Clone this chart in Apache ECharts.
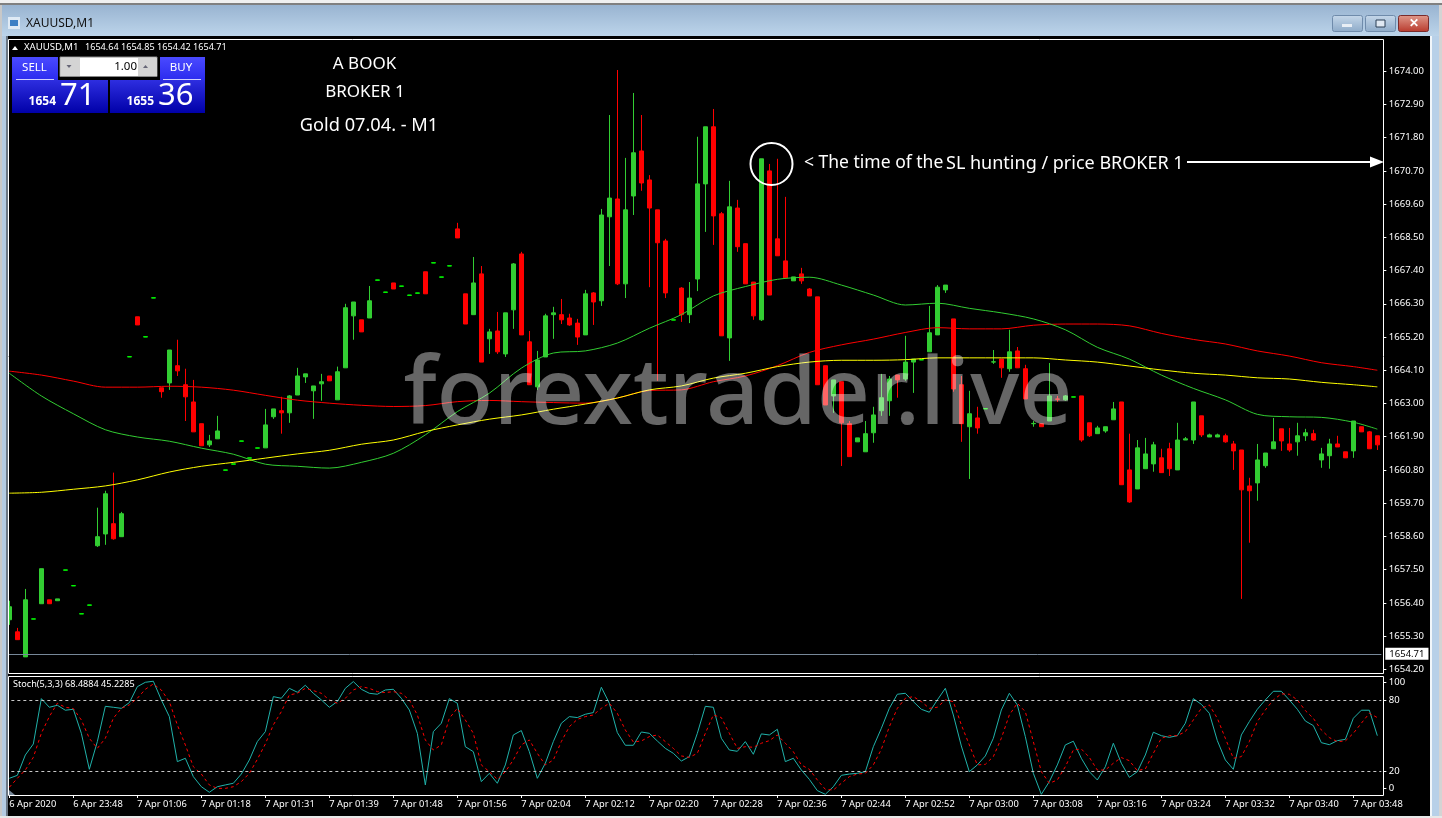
<!DOCTYPE html>
<html><head><meta charset="utf-8">
<style>html,body{margin:0;padding:0;background:#fff}#c{width:1442px;height:818px}</style>
<script src="https://cdn.jsdelivr.net/npm/echarts@6/dist/echarts.min.js"></script>
</head><body><div id="c"></div>
<script>
const tickLabels = ["6 Apr 2020","6 Apr 23:48","7 Apr 01:06","7 Apr 01:18","7 Apr 01:31","7 Apr 01:39","7 Apr 01:48","7 Apr 01:56","7 Apr 02:04","7 Apr 02:12","7 Apr 02:20","7 Apr 02:28","7 Apr 02:36","7 Apr 02:44","7 Apr 02:52","7 Apr 03:00","7 Apr 03:08","7 Apr 03:16","7 Apr 03:24","7 Apr 03:32","7 Apr 03:40","7 Apr 03:48"];
const priceTicks = [1654.2,1655.3,1656.4,1657.5,1658.6,1659.7,1660.8,1661.9,1663.0,1664.1,1665.2,1666.3,1667.4,1668.5,1669.6,1670.7,1671.8,1672.9,1674.0];
const lastPrice = 1654.71;
const stochLevels = [20,80];
const opens = [
1655.84,1655.44,1654.61,1655.86,1656.37,1656.50,1656.47,1657.48,1656.96,1656.03,
1656.32,1658.29,1658.68,1659.02,1658.59,1664.54,1665.87,1665.20,1666.49,1663.52,
1663.68,1664.25,1663.62,1663.05,1662.33,1661.63,1661.83,1660.79,1660.99,1661.75,
1661.19,1661.52,1661.53,1662.56,1662.76,1662.69,1663.28,1663.88,1663.42,1663.65,
1663.91,1663.12,1664.18,1665.90,1665.77,1665.83,1667.08,1666.68,1666.99,1666.88,
1666.58,1666.65,1667.36,1667.65,1667.18,1667.55,1668.78,1666.63,1665.94,1667.29,
1665.14,1665.40,1664.64,1666.10,1667.95,1665.04,1663.55,1664.54,1665.94,1665.94,
1665.83,1665.66,1665.27,1666.66,1666.40,1669.18,1669.77,1666.96,1669.87,1671.36,
1670.40,1669.41,1668.38,1665.76,1666.82,1665.94,1667.12,1670.27,1672.16,1669.28,
1665.17,1669.47,1668.29,1667.02,1665.77,1670.70,1668.45,1667.72,1667.06,1667.29,
1666.79,1666.53,1664.25,1663.25,1663.72,1662.33,1661.73,1661.40,1662.03,1662.76,
1663.09,1663.94,1663.81,1664.37,1664.44,1664.71,1665.27,1666.76,1665.80,1663.62,
1662.23,1662.52,1662.82,1664.37,1664.47,1664.15,1664.74,1664.15,1662.33,1662.33,
1662.42,1663.15,1663.12,1663.21,1663.25,1662.36,1662.00,1662.09,1662.46,1663.05,
1660.80,1660.17,1660.84,1661.00,1661.20,1661.50,1660.80,1661.79,1661.79,1662.59,
1661.89,1661.89,1661.93,1661.66,1661.46,1660.27,1660.37,1660.94,1661.50,1662.16,
1661.66,1661.73,1661.93,1662.00,1661.13,1661.27,1661.66,1661.40,1661.43,1662.23,
1662.06,1661.93];
const closes = [
1656.27,1655.18,1656.50,1655.87,1657.53,1656.37,1656.53,1657.49,1656.97,1656.04,
1656.33,1658.59,1660.01,1658.52,1659.35,1664.55,1665.60,1665.21,1666.50,1663.39,
1664.77,1664.08,1663.22,1662.06,1661.60,1661.76,1662.09,1660.80,1661.00,1661.76,
1661.20,1661.53,1662.29,1662.82,1662.69,1663.25,1663.91,1663.98,1663.58,1663.72,
1663.75,1664.05,1666.17,1666.36,1665.37,1666.40,1667.09,1666.69,1666.79,1666.89,
1666.59,1666.66,1666.63,1667.66,1667.19,1667.56,1668.48,1665.63,1666.99,1664.37,
1665.37,1664.71,1666.00,1667.62,1665.27,1663.62,1664.44,1665.90,1666.00,1665.77,
1665.60,1665.20,1666.63,1666.36,1669.24,1669.80,1666.96,1669.41,1671.30,1670.30,
1669.47,1668.32,1666.66,1665.77,1665.94,1666.49,1670.27,1672.16,1669.21,1665.24,
1669.51,1668.19,1666.96,1665.90,1671.10,1666.59,1667.89,1667.16,1667.19,1667.06,
1666.56,1663.62,1662.95,1663.78,1662.36,1661.24,1661.86,1662.00,1662.62,1663.19,
1663.81,1663.78,1664.37,1664.47,1664.45,1665.34,1666.85,1666.92,1663.48,1662.33,
1662.66,1662.19,1662.83,1664.38,1664.18,1664.71,1664.18,1663.15,1662.34,1662.23,
1663.25,1663.14,1663.25,1663.22,1661.79,1661.93,1662.19,1662.23,1662.82,1660.31,
1659.74,1661.53,1661.33,1661.63,1660.71,1660.84,1661.79,1661.83,1663.05,1661.96,
1661.96,1661.96,1661.73,1661.43,1660.14,1660.11,1661.13,1661.36,1661.73,1661.76,
1661.46,1661.93,1662.03,1661.79,1661.33,1661.66,1661.56,1661.20,1662.42,1662.06,
1661.50,1661.63];
const lows = [
1655.67,1655.18,1654.61,1655.86,1656.37,1656.37,1656.47,1657.48,1656.96,1656.03,
1656.32,1658.25,1658.32,1658.49,1658.59,1664.54,1665.60,1665.20,1666.49,1663.19,
1663.45,1663.91,1662.42,1662.06,1661.60,1661.56,1661.83,1660.79,1660.99,1661.75,
1661.19,1661.52,1661.53,1662.49,1662.00,1662.36,1663.28,1663.68,1662.49,1663.09,
1663.75,1663.12,1664.18,1665.11,1665.37,1665.83,1667.08,1666.68,1666.79,1666.88,
1666.58,1666.65,1666.63,1667.65,1667.18,1667.55,1668.48,1665.63,1665.94,1664.37,
1664.64,1664.64,1664.54,1665.47,1665.27,1663.62,1663.45,1664.54,1665.14,1665.63,
1665.57,1664.94,1665.27,1665.60,1666.23,1667.55,1666.92,1666.49,1669.24,1670.04,
1666.85,1663.75,1666.49,1665.76,1665.70,1665.66,1666.72,1668.68,1668.25,1665.24,
1664.41,1668.02,1666.96,1665.77,1665.73,1666.59,1667.89,1667.16,1667.06,1666.96,
1666.56,1663.62,1662.95,1662.69,1660.93,1661.24,1661.73,1661.40,1661.70,1662.59,
1662.59,1663.19,1663.75,1663.35,1664.44,1664.71,1665.27,1666.66,1663.39,1661.73,
1660.50,1662.00,1662.82,1664.31,1663.85,1664.05,1664.18,1663.15,1662.23,1662.23,
1662.42,1663.05,1663.09,1663.21,1661.73,1661.89,1662.00,1662.03,1662.46,1660.31,
1659.71,1660.17,1660.84,1660.74,1660.71,1660.60,1660.80,1661.79,1661.66,1661.89,
1661.89,1661.89,1661.70,1660.80,1656.53,1658.39,1659.78,1660.87,1661.50,1661.43,
1661.40,1661.27,1661.76,1661.76,1660.87,1660.84,1661.56,1661.20,1661.20,1662.06,
1661.50,1661.46];
const highs = [
1656.47,1655.57,1656.86,1655.87,1657.53,1656.50,1656.53,1657.49,1656.97,1656.04,
1656.33,1659.55,1660.11,1660.71,1659.41,1664.55,1665.87,1665.21,1666.50,1663.52,
1664.77,1665.11,1664.15,1663.78,1662.33,1661.96,1662.59,1660.80,1661.00,1661.76,
1661.20,1661.53,1662.82,1662.82,1663.22,1663.28,1664.18,1663.98,1663.58,1663.98,
1663.91,1664.22,1666.30,1666.36,1665.77,1666.89,1667.09,1666.69,1666.99,1666.89,
1666.59,1666.66,1667.36,1667.66,1667.19,1667.56,1668.98,1666.63,1667.85,1667.55,
1665.47,1666.03,1666.00,1667.65,1668.02,1665.40,1664.74,1665.97,1666.20,1666.46,
1665.97,1665.80,1666.76,1666.69,1669.44,1672.55,1674.04,1671.13,1673.28,1672.55,
1670.56,1669.41,1668.45,1665.77,1666.85,1667.02,1671.83,1672.16,1672.75,1669.34,
1670.37,1669.74,1668.29,1667.02,1671.10,1670.93,1671.10,1669.84,1667.19,1667.49,
1666.82,1666.53,1664.25,1663.78,1663.72,1662.42,1661.86,1662.42,1662.89,1663.98,
1663.91,1663.94,1665.24,1664.47,1664.45,1666.23,1666.92,1666.92,1665.80,1663.91,
1663.42,1662.89,1662.83,1664.77,1664.47,1665.44,1664.87,1664.28,1662.42,1662.33,
1664.34,1663.25,1663.28,1663.22,1663.25,1662.36,1662.26,1662.23,1663.05,1663.05,
1662.00,1661.79,1661.86,1661.73,1661.50,1661.70,1662.36,1661.89,1663.05,1662.59,
1662.00,1662.00,1662.00,1661.76,1661.46,1660.54,1661.66,1661.36,1662.52,1662.16,
1662.19,1662.36,1662.16,1662.13,1661.53,1661.83,1661.93,1661.40,1662.42,1662.23,
1662.09,1661.93];
const maBars = [0,4,8,12,16,20,24,28,32,36,40,44,48,52,56,60,64,68,72,76,80,84,88,92,96,100,104,108,112,116,120,124,128,132,136,140,144,148,152,156,160,164,168,171];
const maRed = [1664.07,1663.94,1663.74,1663.54,1663.54,1663.57,1663.54,1663.44,1663.27,1663.11,1663.01,1662.94,1662.90,1662.93,1663.06,1663.10,1663.06,1663.03,1663.01,1663.18,1663.43,1663.45,1663.72,1663.91,1664.25,1664.69,1664.94,1665.13,1665.35,1665.51,1665.47,1665.47,1665.59,1665.63,1665.63,1665.57,1665.32,1665.12,1664.97,1664.74,1664.57,1664.35,1664.22,1664.10];
const maGreen = [1664.00,1663.25,1662.66,1662.13,1661.89,1661.75,1661.52,1661.32,1660.99,1660.92,1660.86,1661.05,1661.35,1661.96,1662.73,1663.34,1664.17,1664.67,1664.74,1665.00,1665.49,1665.94,1666.56,1666.87,1667.11,1667.18,1666.92,1666.59,1666.26,1666.32,1666.15,1666.00,1665.80,1665.44,1664.86,1664.47,1663.94,1663.50,1663.12,1662.64,1662.56,1662.54,1662.38,1662.15];
const maYellow = [1660.03,1660.06,1660.16,1660.27,1660.47,1660.73,1660.92,1661.05,1661.19,1661.33,1661.45,1661.65,1661.79,1662.07,1662.29,1662.48,1662.62,1662.81,1662.98,1663.18,1663.45,1663.58,1663.84,1664.00,1664.22,1664.37,1664.43,1664.43,1664.45,1664.51,1664.51,1664.51,1664.51,1664.44,1664.37,1664.24,1664.11,1664.00,1663.94,1663.85,1663.81,1663.70,1663.62,1663.55];
const stochMain = [
14.1,16.6,33.8,43.1,81.4,74.1,75.8,71.6,72.4,52.1,21.7,45.1,74.9,74.1,73.2,78.0,91.5,95.2,96.1,80.3,
66.2,28.2,31.0,15.5,7.0,2.3,7.0,8.5,9.9,17.7,29.6,45.1,53.5,83.1,81.7,90.1,86.8,92.7,85.9,80.3,
74.1,78.9,90.1,95.8,89.3,85.9,85.1,88.7,89.3,81.7,71.8,52.1,8.5,53.5,60.6,81.4,77.5,40.8,36.6,11.3,
18.3,9.9,25.4,50.7,54.4,36.6,14.1,26.8,45.1,60.6,66.2,65.4,68.2,69.6,91.0,77.5,52.7,42.0,42.0,53.2,
52.1,45.6,39.4,35.2,28.7,32.4,52.1,74.9,74.1,47.9,38.0,36.9,45.1,34.4,51.6,50.7,55.5,28.2,31.0,21.1,
13.2,3.7,0.6,7.0,16.6,17.7,18.3,19.7,40.8,56.3,73.2,85.1,85.9,78.9,72.4,69.9,80.3,90.1,67.6,41.4,
19.7,25.4,33.0,47.9,71.8,85.9,76.1,49.3,18.3,0.6,11.3,25.4,42.3,45.4,31.0,19.7,12.7,23.9,43.7,26.8,
14.9,19.7,33.8,53.0,50.1,48.7,50.1,60.6,81.4,76.6,69.0,45.9,29.6,21.7,50.7,62.0,72.4,80.3,87.6,87.6,
80.3,72.4,62.5,58.6,44.2,42.5,45.9,47.0,64.8,71.6,71.6,50.1];
const stochSignal = [
6.5,14.1,21.1,31.8,52.1,66.2,77.5,74.1,73.0,63.4,47.9,39.4,47.9,64.8,73.2,76.1,81.7,89.3,93.8,88.7,
78.9,59.2,42.3,23.9,17.7,8.5,5.6,5.6,7.0,11.3,18.3,30.1,43.1,59.2,70.4,84.5,85.9,90.1,88.2,85.9,
80.3,77.5,81.7,88.7,91.5,90.1,87.3,86.5,87.3,85.9,80.3,67.6,46.5,38.0,42.3,64.8,73.2,63.4,52.1,25.4,
19.7,13.2,19.7,29.6,42.3,46.5,35.2,25.4,29.6,45.1,57.7,63.9,66.2,67.6,73.2,77.5,69.0,54.9,44.8,45.6,
49.3,50.7,45.1,39.4,33.0,31.8,35.2,52.1,67.6,65.4,52.1,39.4,40.8,40.3,43.7,45.9,50.7,43.7,36.6,25.4,
21.7,12.7,4.8,4.2,9.9,15.5,17.7,18.3,25.4,38.6,57.7,73.2,81.7,83.1,78.9,73.2,74.1,80.3,78.9,59.2,
42.3,25.4,25.9,32.4,47.9,67.6,77.5,70.4,45.1,19.7,9.9,12.7,23.9,38.0,38.9,31.8,21.1,21.1,26.8,31.6,
29.0,20.6,22.0,35.2,47.9,50.1,50.1,53.5,63.4,73.2,76.1,64.8,47.9,31.0,32.4,45.1,62.0,71.8,80.3,85.4,
85.1,80.3,71.3,64.8,54.9,48.5,45.1,45.6,52.1,60.6,69.0,65.4];

const categories = opens.map((_, i) => i % 8 === 0 ? tickLabels[i / 8] : '');
const everyEighth = i => i % 8 === 0;
const UI = '"Noto Sans", sans-serif';
const candle = opens.map((o, i) => {
  const value = [o, closes[i], lows[i], highs[i]];
  const isDash = Math.abs(o - closes[i]) < 0.015 && closes[i] > o && lows[i] === o && highs[i] === closes[i];
  return isDash ? {value, itemStyle:{color:'#00ff00', borderColor:'#00ff00'}} : {value};
});
const maData = arr => maBars.map((k, i) => [k, arr[i]]);
const rect = (x, y, w, h, fill, z = 100, extra = {}) => ({type:'rect', z, silent:true, shape:{x, y, width:w, height:h}, style:{fill, ...extra}});
const grad = (a, b) => ({type:'linear', x:0, y:0, x2:0, y2:1, colorStops:[{offset:0, color:a},{offset:1, color:b}]});
const txt = (x, y, text, fontSize, fill = '#fff', align = 'left', fontWeight = 'normal', z = 110, family = UI) =>
  ({type:'text', z, silent:true, x, y, style:{text, fontSize, fontFamily:family, fill, align, verticalAlign:'middle', fontWeight}});
const poly = (points, fill, z = 110) => ({type:'polygon', z, silent:true, shape:{points}, style:{fill}});
const box = (x, y, w, h, stroke, fill = 'transparent', z = 100, r = 0) => ({type:'rect', z, silent:true, shape:{x, y, width:w, height:h, r}, style:{fill, stroke, lineWidth:1}});

const graphic = [
  // window frame
  rect(0, 0, 1442, 3, '#f0f0f0'),
  rect(0, 3, 1442, 2, '#808080'),
  rect(0, 5, 1442, 31, grad('#99b4d1', '#bcd4ea')),
  rect(0, 36, 6, 782, '#b4cbe2'),
  rect(0, 5, 2, 813, '#c8c8c8'),
  rect(6, 36, 2, 782, '#6a7683'),
  rect(1430, 36, 12, 782, '#b8d0e8'),
  rect(1430, 36, 2, 782, '#f2f6fa'),
  rect(1439, 5, 3, 813, '#d4d4d4'),
  rect(0, 816, 1442, 2, '#e8e8e8'),
  // title
  rect(8, 17, 12, 12, '#dfeaf5', 110),
  rect(10, 20, 8, 6, '#3d7fc4', 111),
  txt(26, 23.5, 'XAUUSD,M1', 12, '#111'),
  // window buttons
  box(1332.5, 15.5, 30, 16, '#6f8bab', grad('#c6d8ea', '#8daac8'), 105, 2),
  rect(1342, 24, 10, 3, '#e8eef5', 106),
  box(1365.5, 15.5, 30, 16, '#6f8bab', grad('#c6d8ea', '#8daac8'), 105, 2),
  box(1376, 20, 9, 7, '#2b3f55', '#dfe8f2', 106),
  box(1398.5, 15.5, 30, 16, '#7a2b2b', grad('#e09a8c', '#b8392c'), 105, 2),
  txt(1413.5, 23.5, '✕', 12, '#fff', 'center', 'bold'),
  // panes
  box(8.5, 39.5, 1375, 634, '#fff', 'transparent', 90),
  box(8.5, 676.5, 1375, 119, '#fff', 'transparent', 90),
  poly([[9,790],[9,795],[15,795]], '#778899', 91),
  // header texts
  poly([[12,50],[15,46],[18,50]], '#fff'),
  txt(24, 47.5, 'XAUUSD,M1', 9.6),
  txt(85, 47.5, '1654.64 1654.85 1654.42 1654.71', 9.1),
  txt(13, 684.5, 'Stoch(5,3,3) 68.4884 45.2285', 9.1),
  // trade panel
  rect(12, 57, 46, 24, grad('#4a4aff', '#2a2aee'), 105),
  rect(160, 57, 45, 24, grad('#4a4aff', '#2a2aee'), 105),
  rect(16, 79, 38, 1, '#d0d0ff', 106),
  rect(163, 79, 38, 1, '#d0d0ff', 106),
  rect(12, 80, 96, 33, grad('#2e2ee0', '#0000a8'), 105),
  rect(110, 80, 95, 33, grad('#2e2ee0', '#0000a8'), 105),
  txt(34.5, 67.5, 'SELL', 11.5, '#fff', 'center'),
  txt(181, 67.5, 'BUY', 11.5, '#fff', 'center'),
  box(60, 57, 97, 19.5, '#888', '#fff', 105),
  rect(61, 58, 19, 18, '#d4d4d4', 106),
  rect(138, 58, 19, 18, '#d4d4d4', 106),
  poly([[66.5,65],[71.5,65],[69,68]], '#667'),
  poly([[143,68],[148,68],[145.5,65]], '#667'),
  txt(137, 66.5, '1.00', 11.5, '#000', 'right'),
  txt(56, 102, '1654', 12, '#fff', 'right', 'bold'),
  txt(60, 96, '71', 31),
  txt(154, 102, '1655', 12, '#fff', 'right', 'bold'),
  txt(158, 96, '36', 31),
  // annotations
  txt(364.5, 64, 'A BOOK', 17, '#fff', 'center'),
  txt(365, 92.5, 'BROKER 1', 17, '#fff', 'center'),
  txt(369, 126, 'Gold 07.04. - M1', 18.2, '#fff', 'center'),
  txt(804, 163.5, '< The time of the', 17.5),
  txt(946, 163.5, 'SL hunting / price BROKER 1', 18),
  {type:'circle', z:100, silent:true, shape:{cx:771.5, cy:164, r:21}, style:{fill:'transparent', stroke:'#fff', lineWidth:2}},
  {type:'line', z:100, silent:true, shape:{x1:1187, y1:162, x2:1372, y2:162}, style:{stroke:'#fff', lineWidth:2}},
  poly([[1370,156.5],[1384,162],[1370,167.5]], '#fff', 100),
  // watermark
  txt(738, 397, 'forextrader.live', 93, 'rgba(255,255,255,0.40)', 'center', '500', 50),
];

const chart = echarts.init(document.getElementById('c'), null, {renderer:'canvas', width:1442, height:818});
chart.setOption({
  animation:false,
  backgroundColor:'#000',
  textStyle:{fontFamily:UI},
  grid:[
    {left:5.33, top:39.5, width:1376, height:634, containLabel:false},
    {left:5.33, top:676.6, width:1376, height:118.4, containLabel:false}
  ],
  xAxis:[
    {type:'category', gridIndex:0, data:categories, show:false},
    {type:'category', gridIndex:1, data:categories,
      axisLine:{show:false},
      axisTick:{show:true, interval:everyEighth, alignWithLabel:true, length:3, lineStyle:{color:'#fff'}},
      axisLabel:{interval:everyEighth, color:'#fff', fontSize:9.3, fontFamily:UI, align:'left', margin:5, hideOverlap:false}}
  ],
  yAxis:[
    {type:'value', gridIndex:0, position:'right', offset:2, min:1654.06, max:1675.05, scale:true, splitLine:{show:false},
      axisLine:{show:false},
      axisTick:{show:true, length:3, customValues:priceTicks, lineStyle:{color:'#fff'}},
      axisLabel:{customValues:priceTicks, color:'#fff', fontSize:9.5, fontFamily:UI, margin:5.5, padding:[2,0,0,0], formatter:v => v.toFixed(2)}},
    {type:'value', gridIndex:1, position:'right', offset:2, min:0, max:100, splitLine:{show:false},
      axisLine:{show:false},
      axisTick:{show:true, length:3, customValues:[5.7,20,80,95], lineStyle:{color:'#fff'}},
      axisLabel:{customValues:[5.7,20,80,95], color:'#fff', fontSize:9.5, fontFamily:UI, margin:5.5, padding:[2,0,0,0],
        formatter:v => v < 10 ? '0' : v > 90 ? '100' : String(v)}}
  ],
  series:[
    {type:'candlestick', name:'XAUUSD', xAxisIndex:0, yAxisIndex:0, data:candle, barWidth:4,
      itemStyle:{color:'#32cd32', color0:'#ff0000', borderColor:'#32cd32', borderColor0:'#ff0000', borderWidth:1},
      markLine:{silent:true, symbol:'none', animation:false,
        lineStyle:{color:'#778899', width:1, type:'solid'},
        label:{position:'end', distance:4, backgroundColor:'#fff', color:'#000', fontSize:9.5, fontFamily:UI, padding:[1,4], formatter:p => p.value.toFixed(2)},
        data:[{yAxis:lastPrice}]}},
    {type:'line', name:'MA red', xAxisIndex:0, yAxisIndex:0, data:maData(maRed), showSymbol:false, smooth:0.3, lineStyle:{color:'#ff0000', width:1}},
    {type:'line', name:'MA green', xAxisIndex:0, yAxisIndex:0, data:maData(maGreen), showSymbol:false, smooth:0.3, lineStyle:{color:'#32cd32', width:1}},
    {type:'line', name:'MA yellow', xAxisIndex:0, yAxisIndex:0, data:maData(maYellow), showSymbol:false, smooth:0.3, lineStyle:{color:'#ffff00', width:1}},
    {type:'line', name:'Stoch', xAxisIndex:1, yAxisIndex:1, data:stochMain, showSymbol:false, lineStyle:{color:'#20b2aa', width:1},
      markLine:{silent:true, symbol:'none', animation:false, label:{show:false}, lineStyle:{color:'#c8c8c8', width:1, type:[3,3]},
        data:stochLevels.map(v => ({yAxis:v}))}},
    {type:'line', name:'Signal', xAxisIndex:1, yAxisIndex:1, data:stochSignal, showSymbol:false, lineStyle:{color:'#ff0000', width:1, type:[3,3]}}
  ],
  graphic
});
</script></body></html>
